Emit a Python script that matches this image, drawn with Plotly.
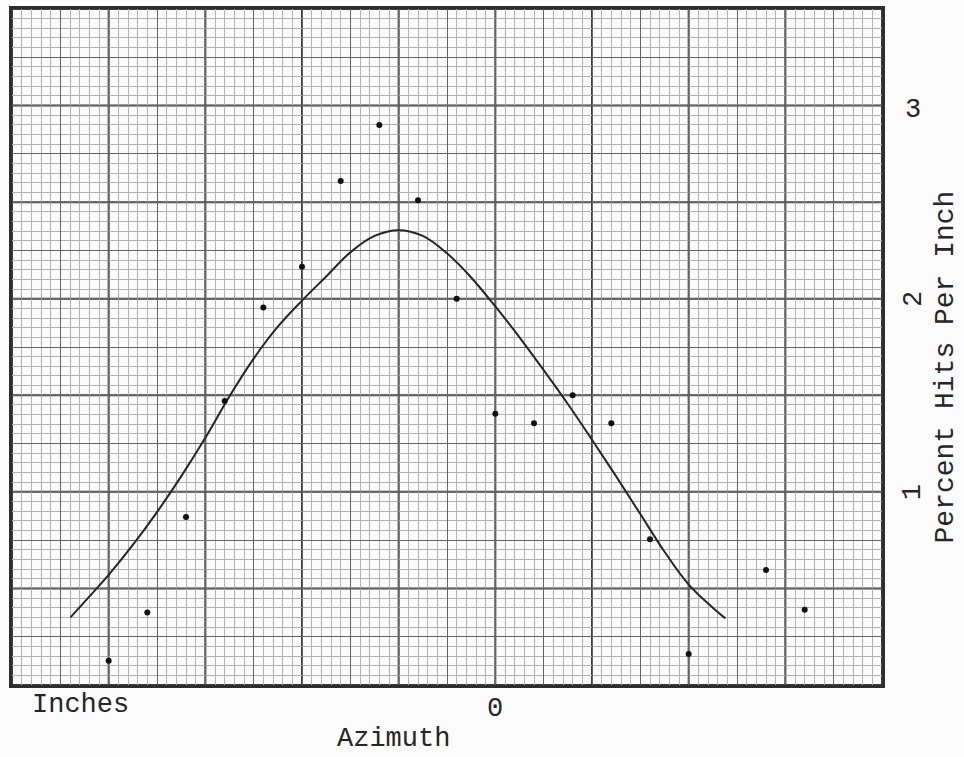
import numpy as np
import plotly.graph_objects as go

# Observed points (x in grid units along azimuth, y = percent hits per inch)
point_x = [-8.0, -7.2, -6.4, -5.6, -4.8, -4.0, -3.2, -2.4, -1.6, -0.8,
           0.0, 0.8, 1.6, 2.4, 3.2, 4.0, 5.6, 6.4]
point_y = [0.125, 0.375, 0.87, 1.47, 1.955, 2.165, 2.61, 2.90, 2.51, 2.0,
           1.405, 1.355, 1.50, 1.355, 0.755, 0.16, 0.595, 0.39]

# Hand-drawn smooth curve
curve_x = [-8.79, -8.5, -8.0, -7.5, -7.0, -6.5, -6.0, -5.5, -5.0, -4.5, -4.0,
           -3.5, -3.0, -2.5, -2.0, -1.5, -1.0, -0.5, 0.0, 0.5, 1.0, 1.5,
           2.0, 2.5, 3.0, 3.5, 4.0, 4.5, 4.76]
curve_y = [0.35, 0.43, 0.57, 0.725, 0.895, 1.08, 1.28, 1.495, 1.69, 1.855, 1.99,
           2.115, 2.24, 2.325, 2.355, 2.325, 2.235, 2.11, 1.96, 1.80, 1.63, 1.455,
           1.27, 1.08, 0.885, 0.69, 0.52, 0.40, 0.345]

y_tick_vals = [3, 2, 1]
y_tick_text = ["3", "2", "1"]
y_tick_angle = [0, -90, -90]
x_tick_vals = [0]
x_tick_text = ["0"]

X_RANGE = [-10, 8]
Y_RANGE = [0, 3.5]

FONT = "Liberation Mono, Courier New, monospace"
INK = "#262626"

fig = go.Figure()
fig.add_trace(go.Scatter(x=curve_x, y=curve_y, mode="lines",
                         line=dict(color=INK, width=2, shape="spline", smoothing=1.0),
                         hoverinfo="skip"))
fig.add_trace(go.Scatter(x=point_x, y=point_y, mode="markers",
                         marker=dict(color="#111111", size=6)))

# Heavier graph-paper lines every 2 units (x) and 0.5 units (y)
shapes = []
for v in np.arange(X_RANGE[0], X_RANGE[1] + 0.001, 2):
    shapes.append(dict(type="line", xref="x", yref="paper", x0=v, x1=v, y0=0, y1=1,
                       line=dict(color="#3c3c3c", width=2), layer="below"))
for v in np.arange(Y_RANGE[0], Y_RANGE[1] + 0.001, 0.5):
    shapes.append(dict(type="line", xref="paper", yref="y", x0=0, x1=1, y0=v, y1=v,
                       line=dict(color="#3c3c3c", width=2), layer="below"))

annotations = []
for v, t in zip(x_tick_vals, x_tick_text):
    annotations.append(dict(x=v, y=-0.035, xref="x", yref="paper", text=t,
                            showarrow=False, font=dict(family=FONT, size=27, color=INK),
                            xanchor="center", yanchor="middle"))
for v, t, a in zip(y_tick_vals, y_tick_text, y_tick_angle):
    annotations.append(dict(x=1.036, y=v, xref="paper", yref="y", text=t, textangle=a,
                            showarrow=False, font=dict(family=FONT, size=27, color=INK),
                            xanchor="center", yanchor="middle", yshift=-4 if a == 0 else 0))
annotations.append(dict(x=-8.58, y=-0.030, xref="x", yref="paper", text="Inches",
                        showarrow=False, font=dict(family=FONT, size=27, color=INK),
                        xanchor="center", yanchor="middle"))
annotations.append(dict(x=-2.11, y=-0.08, xref="x", yref="paper", text="Azimuth",
                        showarrow=False, font=dict(family=FONT, size=27, color=INK),
                        xanchor="center", yanchor="middle"))
annotations.append(dict(x=1.0726, y=0.470, xref="paper", yref="paper",
                        text="Percent Hits Per Inch", textangle=-90,
                        showarrow=False, font=dict(family=FONT, size=28, color=INK),
                        xanchor="center", yanchor="middle"))

fig.update_layout(
    width=964, height=757,
    margin=dict(l=12, r=82, t=6, b=72),
    paper_bgcolor="#fcfcfc", plot_bgcolor="#fbfbfb",
    showlegend=False,
    shapes=shapes, annotations=annotations,
    xaxis=dict(range=X_RANGE, tick0=0, dtick=1, showgrid=True, gridcolor="#646464",
               gridwidth=1.3, zeroline=False, showticklabels=False, ticks="",
               showline=True, mirror=True, linecolor="#2e2e2e", linewidth=2.5,
               minor=dict(tick0=0, dtick=0.2, showgrid=True, gridcolor="#b2b2b2",
                          gridwidth=1)),
    yaxis=dict(range=Y_RANGE, tick0=0, dtick=0.25, showgrid=True, gridcolor="#646464",
               gridwidth=1.3, zeroline=False, showticklabels=False, ticks="",
               showline=True, mirror=True, linecolor="#2e2e2e", linewidth=2.5,
               minor=dict(tick0=0, dtick=0.05, showgrid=True, gridcolor="#b2b2b2",
                          gridwidth=1)),
)

fig.write_html("out.html")
